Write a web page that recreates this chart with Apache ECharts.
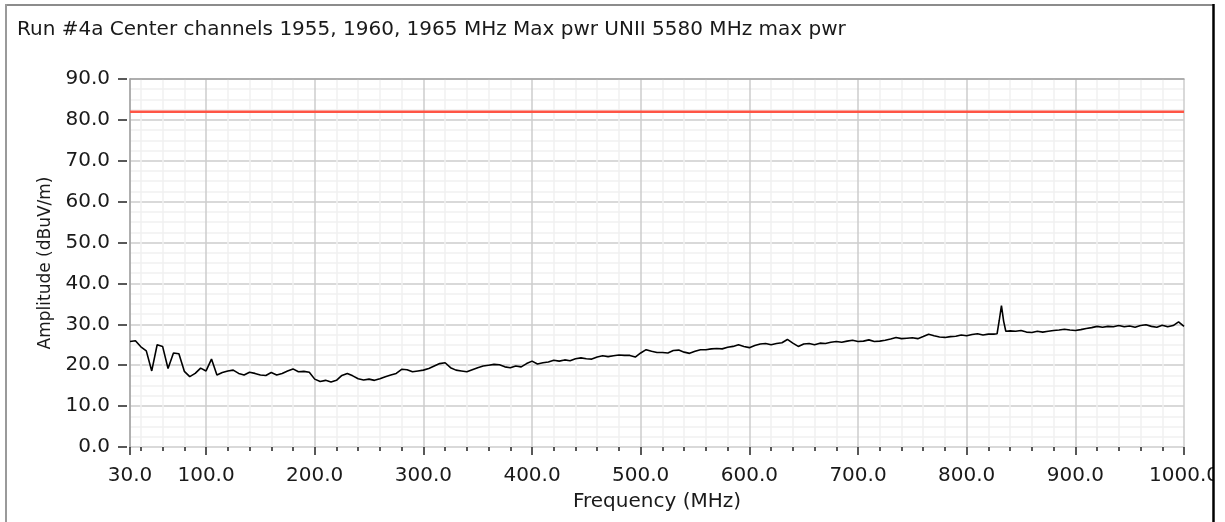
<!DOCTYPE html>
<html><head><meta charset="utf-8">
<script src="https://cdn.jsdelivr.net/npm/echarts@6/dist/echarts.min.js"></script>
<style>html,body{margin:0;padding:0;background:#fff}#c{width:1225px;height:522px}</style>
</head><body><div id="c"></div>
<script>
const titleText = 'Run #4a Center channels 1955, 1960, 1965 MHz Max pwr UNII 5580 MHz max pwr';
const xAxisName = 'Frequency (MHz)';
const yAxisName = 'Amplitude (dBuV/m)';

const freqMHz = [
  30,35,40,45,50,55,60,65,70,75,80,85,90,95,100,105,110,115,120,125,
  130,135,140,145,150,155,160,165,170,175,180,185,190,195,200,205,210,215,220,225,
  230,235,240,245,250,255,260,265,270,275,280,285,290,295,300,305,310,315,320,325,
  330,335,340,345,350,355,360,365,370,375,380,385,390,395,400,405,410,415,420,425,
  430,435,440,445,450,455,460,465,470,475,480,485,490,495,500,505,510,515,520,525,
  530,535,540,545,550,555,560,565,570,575,580,585,590,595,600,605,610,615,620,625,
  630,635,640,645,650,655,660,665,670,675,680,685,690,695,700,705,710,715,720,725,
  730,735,740,745,750,755,760,765,770,775,780,785,790,795,800,805,810,815,820,825,
  828,830,832,834,836,840,845,850,855,860,865,870,875,880,885,890,895,900,905,910,
  915,920,925,930,935,940,945,950,955,960,965,970,975,980,985,990,995,1000
];
const amplitude = [
  25.8,26.0,24.5,23.5,18.6,25.0,24.6,19.2,23.0,22.8,18.5,17.2,18.0,19.3,18.6,21.5,17.6,18.2,18.6,18.8,
  18.0,17.6,18.3,18.0,17.6,17.5,18.2,17.6,18.0,18.6,19.1,18.4,18.5,18.3,16.6,16.0,16.3,15.9,16.3,17.5,
  18.0,17.4,16.7,16.4,16.6,16.3,16.7,17.2,17.6,18.0,19.0,18.9,18.4,18.6,18.8,19.2,19.8,20.4,20.6,19.4,
  18.8,18.6,18.4,18.9,19.4,19.8,20.0,20.2,20.1,19.6,19.4,19.8,19.6,20.4,21.0,20.3,20.6,20.8,21.2,21.0,
  21.3,21.1,21.6,21.8,21.6,21.5,22.0,22.3,22.1,22.3,22.5,22.4,22.4,22.0,23.0,23.8,23.4,23.1,23.1,23.0,
  23.6,23.7,23.2,22.9,23.4,23.8,23.8,24.0,24.1,24.0,24.4,24.6,25.0,24.6,24.3,24.8,25.2,25.3,25.0,25.3,
  25.5,26.3,25.4,24.6,25.2,25.3,25.0,25.4,25.3,25.6,25.8,25.6,25.9,26.1,25.8,25.9,26.2,25.8,25.9,26.1,
  26.4,26.8,26.5,26.6,26.7,26.5,27.0,27.6,27.2,26.9,26.8,27.0,27.1,27.4,27.2,27.5,27.7,27.4,27.6,27.6,
  27.7,31.0,34.6,30.8,28.3,28.4,28.3,28.5,28.1,28.0,28.3,28.1,28.3,28.5,28.6,28.8,28.6,28.5,28.7,29.0,
  29.2,29.5,29.3,29.5,29.4,29.7,29.4,29.6,29.3,29.7,29.9,29.5,29.3,29.8,29.4,29.7,30.6,29.5
];
const limitFreq = [30, 1000];
const limitLevel = [82.0, 82.0];
const xMajorTicks = [30,100,200,300,400,500,600,700,800,900,1000];
const xMinorTicks = [40,60,80,120,140,160,180,220,240,260,280,320,340,360,380,420,440,460,480,
  520,540,560,580,620,640,660,680,720,740,760,780,820,840,860,880,920,940,960,980];

const FONT = 'DejaVu Sans';
const TXT = '#1a1a1a';
const traceData = freqMHz.map((f, i) => [f, amplitude[i]]);
const limitData = limitFreq.map((f, i) => [f, limitLevel[i]]);

const chart = echarts.init(document.getElementById('c'), null, {renderer: 'canvas'});
chart.setOption({
  animation: false,
  backgroundColor: '#fff',
  title: {text: titleText, left: 12, top: 15,
    textStyle: {fontFamily: FONT, fontSize: 20, fontWeight: 'normal', color: TXT}},
  grid: {left: 130, right: 41, top: 79, bottom: 75, containLabel: false},
  xAxis: [
    {type: 'value', min: 30, max: 1000, position: 'bottom', offset: 4,
     axisLine: {show: false},
     axisTick: {show: true, customValues: xMajorTicks, length: 8, lineStyle: {color: '#222', width: 1.5}},
     axisLabel: {customValues: xMajorTicks, formatter: v => v.toFixed(1), margin: 15,
       color: TXT, fontFamily: FONT, fontSize: 20},
     splitLine: {show: true, lineStyle: {color: '#cccccc', width: 1.5}},
     name: xAxisName, nameLocation: 'middle', nameGap: 41,
     nameTextStyle: {fontFamily: FONT, fontSize: 20, color: TXT}},
    {type: 'value', min: 30, max: 1000, position: 'bottom', offset: 4,
     axisLine: {show: false},
     axisTick: {show: true, customValues: xMinorTicks, length: 4, lineStyle: {color: '#222', width: 1.5}},
     axisLabel: {show: false},
     splitLine: {show: true, lineStyle: {color: '#f1f1f1', width: 1.5}}},
    {type: 'value', min: 30, max: 1000, position: 'top',
     axisLine: {show: true, lineStyle: {color: '#a0a0a0', width: 1.5}},
     axisTick: {show: false}, axisLabel: {show: false}, splitLine: {show: false}}
  ],
  yAxis: [
    {type: 'value', min: 0, max: 90, interval: 10,
     axisLine: {show: true, lineStyle: {color: '#a0a0a0', width: 1.5}},
     axisTick: {show: false}, axisLabel: {show: false},
     splitLine: {show: true, lineStyle: {color: '#cccccc', width: 1.5}},
     minorTick: {show: false, splitNumber: 4},
     minorSplitLine: {show: true, lineStyle: {color: '#f1f1f1', width: 1.5}}},
    {type: 'value', min: 0, max: 90, interval: 10, position: 'left', offset: 3,
     axisLine: {show: false},
     axisTick: {show: true, length: 9, lineStyle: {color: '#222', width: 1.5}},
     axisLabel: {formatter: v => v.toFixed(1), margin: 17, color: TXT, fontFamily: FONT, fontSize: 20},
     splitLine: {show: false},
     name: yAxisName, nameLocation: 'middle', nameGap: 73,
     nameTextStyle: {fontFamily: FONT, fontSize: 17, color: TXT}}
  ],
  series: [
    {type: 'line', name: 'limit', data: limitData, xAxisIndex: 0, yAxisIndex: 0,
     showSymbol: false, silent: true, lineStyle: {color: '#ff5545', width: 2.5}, z: 3},
    {type: 'line', name: 'trace', data: traceData, xAxisIndex: 0, yAxisIndex: 0,
     showSymbol: false, silent: true, lineStyle: {color: '#000', width: 1.6}, z: 4}
  ],
  graphic: [
    {type: 'rect', z: 100, shape: {x: 1214, y: 0, width: 11, height: 522}, style: {fill: '#fff'}},
    {type: 'line', z: 101, shape: {x1: 6, y1: 5, x2: 1213, y2: 5}, style: {stroke: '#8c8c8c', lineWidth: 2}},
    {type: 'line', z: 101, shape: {x1: 6, y1: 4, x2: 6, y2: 522}, style: {stroke: '#9a9a9a', lineWidth: 2}},
    {type: 'line', z: 102, shape: {x1: 1213.5, y1: 4, x2: 1213.5, y2: 522}, style: {stroke: '#000', lineWidth: 2.5}}
  ]
});
</script></body></html>
